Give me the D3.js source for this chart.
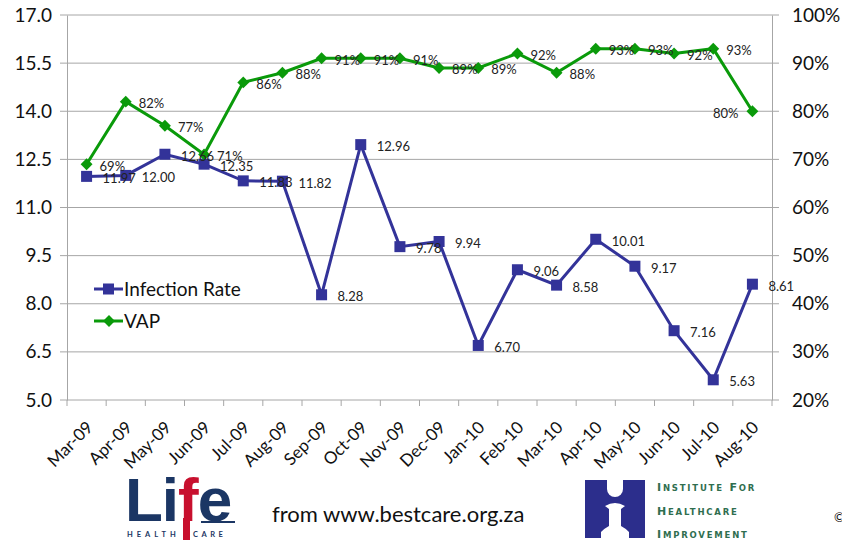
<!DOCTYPE html>
<html>
<head>
<meta charset="utf-8">
<script src="https://cdn.jsdelivr.net/npm/d3@7"></script>
<style>
  body { margin: 0; background: #fff; }
  svg { display: block; font-family: Lato, "Open Sans", sans-serif; }
</style>
</head>
<body>
<div id="chart"></div>
<script>
// Months on the category axis
var months = ["Mar-09", "Apr-09", "May-09", "Jun-09", "Jul-09", "Aug-09", "Sep-09", "Oct-09", "Nov-09",
  "Dec-09", "Jan-10", "Feb-10", "Mar-10", "Apr-10", "May-10", "Jun-10", "Jul-10", "Aug-10"];

// Infection rate (left axis)
var infectionRate = [11.97, 12.00, 12.66, 12.35, 11.83, 11.82, 8.28, 12.96, 9.78,
  9.94, 6.70, 9.06, 8.58, 10.01, 9.17, 7.16, 5.63, 8.61];

// VAP compliance (right axis)
var vap = [0.69, 0.82, 0.77, 0.71, 0.86, 0.88, 0.91, 0.91, 0.91,
  0.89, 0.89, 0.92, 0.88, 0.93, 0.93, 0.92, 0.93, 0.80];

var leftTicks = [5.0, 6.5, 8.0, 9.5, 11.0, 12.5, 14.0, 15.5, 17.0];
var rightTicks = [0.2, 0.3, 0.4, 0.5, 0.6, 0.7, 0.8, 0.9, 1.0];

var W = 842, H = 543;
var m = { l: 67, r: 772, t: 15, b: 400 };
var blue = "#333399", green = "#0a9a0a";

var svg = d3.select("#chart").append("svg")
  .attr("width", W)
  .attr("height", H);

var x = d3.scaleBand().domain(months).range([m.l, m.r]);
var cx = function(d) { return x(d) + x.bandwidth() / 2; };
var yL = d3.scaleLinear().domain([5, 17]).range([m.b, m.t]);
var yR = d3.scaleLinear().domain([0.2, 1]).range([m.b, m.t]);

// gridlines (they run through the tick marks on both sides)
svg.append("g").selectAll("line")
  .data(leftTicks)
  .enter().append("line")
  .attr("x1", m.l - 7).attr("x2", m.r + 7)
  .attr("y1", function(d) { return yL(d); })
  .attr("y2", function(d) { return yL(d); })
  .attr("stroke", "#a6a6a6")
  .attr("stroke-width", 1);

// left axis
var axL = svg.append("g")
  .attr("transform", "translate(" + m.l + ",0)")
  .call(d3.axisLeft(yL).tickValues(leftTicks).tickSize(0).tickPadding(15).tickFormat(d3.format(".1f")));
axL.select(".domain").attr("stroke", "#a6a6a6");
axL.selectAll("text").attr("font-size", 19).attr("fill", "#111").attr("font-family", "Lato, sans-serif");

// right axis
var axR = svg.append("g")
  .attr("transform", "translate(" + m.r + ",0)")
  .call(d3.axisRight(yR).tickValues(rightTicks).tickSize(0).tickPadding(20).tickFormat(d3.format(".0%")));
axR.select(".domain").attr("stroke", "#a6a6a6");
axR.selectAll("text").attr("font-size", 19).attr("fill", "#111").attr("font-family", "Lato, sans-serif");

// category ticks at band edges
var edges = months.map(function(d) { return x(d); }).concat([m.r]);
svg.append("g").selectAll("line")
  .data(edges)
  .enter().append("line")
  .attr("x1", function(d) { return d; }).attr("x2", function(d) { return d; })
  .attr("y1", m.b).attr("y2", m.b + 6)
  .attr("stroke", "#a6a6a6");

// category labels, rotated
svg.append("g").selectAll("text")
  .data(months)
  .enter().append("text")
  .attr("transform", function(d) { return "translate(" + (cx(d) - 1) + "," + (m.b + 20) + ") rotate(-45)"; })
  .attr("text-anchor", "end")
  .attr("dy", "0.7em")
  .attr("font-size", 17)
  .attr("fill", "#111")
  .text(function(d) { return d; });

// infection rate series
var lineL = d3.line()
  .x(function(d, i) { return cx(months[i]); })
  .y(function(d) { return yL(d); });

svg.append("path")
  .datum(infectionRate)
  .attr("d", lineL)
  .attr("fill", "none")
  .attr("stroke", blue)
  .attr("stroke-width", 3);

svg.append("g").selectAll("rect")
  .data(infectionRate)
  .enter().append("rect")
  .attr("x", function(d, i) { return cx(months[i]) - 5.5; })
  .attr("y", function(d) { return yL(d) - 5.5; })
  .attr("width", 11).attr("height", 11)
  .attr("fill", blue);

// VAP series
var lineR = d3.line()
  .x(function(d, i) { return cx(months[i]); })
  .y(function(d) { return yR(d); });

svg.append("path")
  .datum(vap)
  .attr("d", lineR)
  .attr("fill", "none")
  .attr("stroke", green)
  .attr("stroke-width", 3);

var diamond = d3.symbol().type(d3.symbolDiamond2).size(90);
svg.append("g").selectAll("path")
  .data(vap)
  .enter().append("path")
  .attr("d", diamond)
  .attr("transform", function(d, i) { return "translate(" + cx(months[i]) + "," + yR(d) + ")"; })
  .attr("fill", green);

// data labels
svg.append("g").selectAll("text")
  .data(infectionRate)
  .enter().append("text")
  .attr("x", function(d, i) { return cx(months[i]) + 16; })
  .attr("y", function(d) { return yL(d) + 2; })
  .attr("dy", "0.35em")
  .attr("font-size", 13)
  .attr("fill", "#222")
  .text(function(d) { return d.toFixed(2); });

svg.append("g").selectAll("text")
  .data(vap)
  .enter().append("text")
  .attr("x", function(d, i) { return cx(months[i]) + (i == vap.length - 1 ? -14 : 13); })
  .attr("y", function(d) { return yR(d) + 2; })
  .attr("dy", "0.35em")
  .attr("text-anchor", function(d, i) { return i == vap.length - 1 ? "end" : "start"; })
  .attr("font-size", 13)
  .attr("fill", "#222")
  .text(function(d) { return Math.round(d * 100) + "%"; });

// legend
var legend = svg.append("g").attr("transform", "translate(94,289)");
var li = legend.append("g");
li.append("line").attr("x1", 0).attr("x2", 29).attr("stroke", blue).attr("stroke-width", 3);
li.append("rect").attr("x", 9).attr("y", -5.5).attr("width", 11).attr("height", 11).attr("fill", blue);
li.append("text").attr("x", 30).attr("dy", "0.35em").attr("font-size", 19).attr("fill", "#111").text("Infection Rate");
var lv = legend.append("g").attr("transform", "translate(0,32)");
lv.append("line").attr("x1", 0).attr("x2", 29).attr("stroke", green).attr("stroke-width", 3);
lv.append("path").attr("d", diamond).attr("transform", "translate(15,0)").attr("fill", green);
lv.append("text").attr("x", 30).attr("dy", "0.35em").attr("font-size", 19).attr("fill", "#111").text("VAP");

// footer: Life Healthcare logo
var navy = "#1b3664", red = "#c8102e";
var life = svg.append("g").attr("transform", "translate(125,521)");
var lt = life.append("text")
  .attr("font-family", "'Liberation Sans', Arial, sans-serif")
  .attr("font-weight", "bold")
  .attr("font-size", 62)
  .attr("letter-spacing", -1);
lt.append("tspan").attr("fill", navy).text("Li");
lt.append("tspan").attr("fill", red).text("f");
lt.append("tspan").attr("fill", navy).text("e");
life.append("rect").attr("x", 58).attr("y", -3).attr("width", 7).attr("height", 22).attr("fill", red);
life.append("rect").attr("x", 76).attr("y", 0).attr("width", 34).attr("height", 2).attr("fill", navy);
life.append("text").attr("x", 2).attr("y", 16).attr("font-size", 7.5).attr("font-weight", "bold")
  .attr("letter-spacing", 4).attr("fill", navy).text("HEALTH");
life.append("text").attr("x", 68).attr("y", 16).attr("font-size", 7.5).attr("font-weight", "bold")
  .attr("letter-spacing", 3.5).attr("fill", navy).text("CARE");

svg.append("text")
  .attr("x", 272).attr("y", 522)
  .attr("font-size", 22)
  .attr("fill", "#111")
  .text("from www.bestcare.org.za");

// IHI logo
var ihi = svg.append("g").attr("transform", "translate(585,480)");
ihi.append("rect").attr("width", 60).attr("height", 58).attr("fill", "#2c2e8c");
ihi.append("path").attr("fill", "#fff")
  .attr("d", "M22,0 L38,0 L38,9 A8,8 0 0 1 22,9 Z");
ihi.append("path").attr("fill", "#fff")
  .attr("d", "M20,26 Q30,20 40,26 L36,29 L36,46 Q40,48 44,52 L44,58 L16,58 L16,52 Q20,48 24,46 L24,29 Z");
var ihiGreen = "#2f6e4f";
[["Institute for", 11], ["Healthcare", 35], ["Improvement", 58]].forEach(function(r) {
  var t = ihi.append("text")
    .attr("x", 72).attr("y", r[1])
    .attr("font-family", "'DejaVu Sans', sans-serif")
    .attr("font-weight", "bold")
    .attr("letter-spacing", 1.8)
    .attr("fill", ihiGreen);
  var words = r[0].split(" ");
  words.forEach(function(w, k) {
    t.append("tspan").attr("font-size", 11).text((k ? " " : "") + w[0].toUpperCase());
    t.append("tspan").attr("font-size", 8.5).text(w.slice(1).toUpperCase());
  });
});

svg.append("text")
  .attr("x", 834).attr("y", 522)
  .attr("font-size", 13)
  .attr("fill", "#111")
  .text("©");
</script>
</body>
</html>
